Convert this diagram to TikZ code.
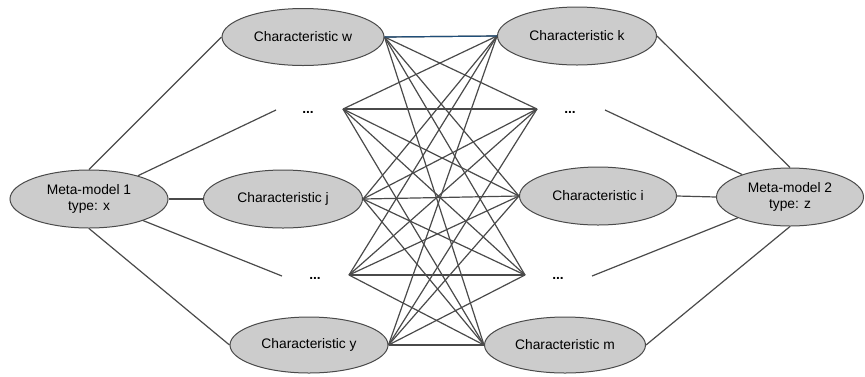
\documentclass[tikz,border=0pt]{standalone}
\usepackage{fontspec}
\setmainfont{Liberation Sans}
\usetikzlibrary{shapes.geometric}
\definecolor{ellfill}{HTML}{CCCCCC}
\definecolor{ellline}{HTML}{4A4A4A}
\definecolor{edge}{HTML}{4A4A4A}
\definecolor{blueedge}{HTML}{1F4E79}
\tikzset{
  ell/.style={ellipse, draw=ellline, line width=1pt, fill=ellfill, inner sep=0pt,
    font=\fontsize{13.8}{16.5}\selectfont, align=center},
  conn/.style={draw=edge, line width=1.2pt},
  dots/.style={font=\fontsize{13.8}{16.5}\selectfont\bfseries, inner sep=0pt}
}
\begin{document}
\begin{tikzpicture}[x=1pt,y=-1pt]
\useasboundingbox (0,0) rectangle (865,376);
% nodes
\node[ell, minimum width=158pt, minimum height=58pt] (mm1) at (89,199) {Meta-model 1\\type: x};
\node[ell, minimum width=162pt, minimum height=57pt] (w) at (303,37) {Characteristic w};
\node[ell, minimum width=159pt, minimum height=58pt] (j) at (283,199) {Characteristic j};
\node[ell, minimum width=158pt, minimum height=56pt] (y) at (309,345) {Characteristic y};
\node[ell, minimum width=159pt, minimum height=58pt] (k) at (577,36) {Characteristic k};
\node[ell, minimum width=157pt, minimum height=58pt] (i) at (598,196) {Characteristic i};
\node[ell, minimum width=161pt, minimum height=56pt] (m) at (565,345) {Characteristic m};
\node[ell, minimum width=147pt, minimum height=58pt] (mm2) at (790,197) {Meta-model 2\\type: z};
% dots
\node[dots] (d1) at (308,112) {...};
\node[dots] (d2) at (570,112) {...};
\node[dots] (d3) at (315,278) {...};
\node[dots] (d4) at (558,278) {...};
% hubs and free ends
\coordinate (hl1) at (343,109);
\coordinate (hr1) at (537,109);
\coordinate (hl2) at (349,275);
\coordinate (hr2) at (525,275);
\coordinate (el1) at (276,110);
\coordinate (er1) at (605,110);
\coordinate (el2) at (282,276);
\coordinate (er2) at (592,276);
% outer connectors
\draw[conn] (mm1.north) -- (w.west);
\draw[conn] (mm1) -- (el1);
\draw[conn] (mm1.east) -- (j.west);
\draw[conn] (mm1) -- (el2);
\draw[conn] (mm1.south) -- (y.west);
\draw[conn] (k.east) -- (mm2.north);
\draw[conn] (er1) -- (mm2);
\draw[conn] (i.east) -- (mm2.west);
\draw[conn] (er2) -- (mm2);
\draw[conn] (m.east) -- (mm2.south);
% mesh
\foreach \a in {w.east, hl1, j.east, hl2, y.east}{
  \foreach \b in {k.west, hr1, i.west, hr2, m.west}{
    \draw[conn] (\a) -- (\b);
  }
}
\draw[draw=blueedge, line width=1.2pt] (w.east) -- (k.west);
\end{tikzpicture}
\end{document}
